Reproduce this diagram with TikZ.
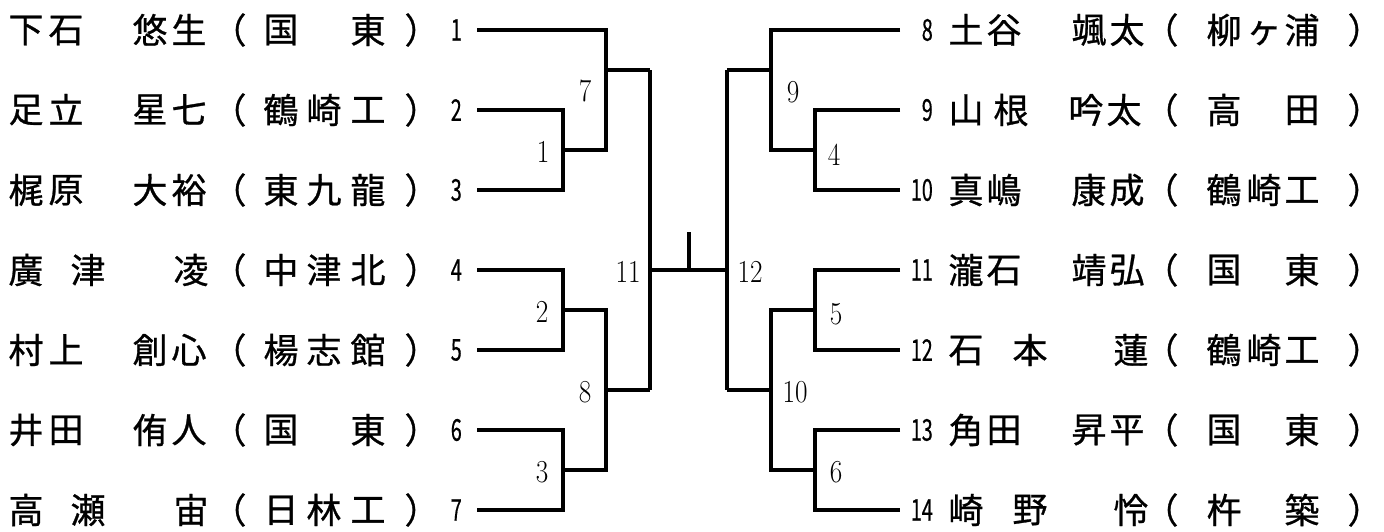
\documentclass[tikz,border=0pt]{standalone}
\usepackage{fontspec}
\usepackage{graphicx}
\newfontfamily\jpfont[FakeBold=0.8]{Noto Sans CJK JP}
\newfontfamily\numfont[FakeBold=0.6]{Noto Sans CJK JP}
\tikzset{
  x=1pt, y=-1pt,
  wire/.style={line width=4pt, line join=miter, line cap=butt},
  jp/.style={font=\jpfont\fontsize{35}{35}\selectfont, inner sep=0pt, anchor=center},
  seedl/.style={font=\numfont\fontsize{30}{30}\selectfont, inner sep=0pt, anchor=east},
  lbl/.style={font=\fontsize{32}{32}\selectfont, inner sep=0pt, anchor=center},
}
\newcommand\prow[4]{%
  \foreach \dx/\ch [count=\k] in {#4} {
    \node[jp] (#1-\k) at (#2+\dx,#3) {\vphantom{国}\ch};
  }%
}
\newcommand\snum[1]{\scalebox{0.66}[1]{#1}}
\newcommand\lnum[1]{\scalebox{0.85}[1]{#1}}
\begin{document}
\begin{tikzpicture}
\useasboundingbox (0,0) rectangle (1384,531);
% seed line ends
\coordinate (L1) at (477,30);
\coordinate (L2) at (477,110);
\coordinate (L3) at (477,190);
\coordinate (L4) at (477,270);
\coordinate (L5) at (477,350);
\coordinate (L6) at (477,430);
\coordinate (L7) at (477,510);
\coordinate (R8) at (900,30);
\coordinate (R9) at (900,110);
\coordinate (R10) at (900,190);
\coordinate (R11) at (900,270);
\coordinate (R12) at (900,350);
\coordinate (R13) at (900,430);
\coordinate (R14) at (900,510);
% match junctions
\coordinate (m1) at (563,150);
\coordinate (m2) at (563,310);
\coordinate (m3) at (563,470);
\coordinate (m7) at (606,70);
\coordinate (m8) at (606,390);
\coordinate (m11) at (650,270);
\coordinate (m12) at (727,270);
\coordinate (m9) at (771,70);
\coordinate (m10) at (771,390);
\coordinate (m4) at (815,150);
\coordinate (m5) at (815,310);
\coordinate (m6) at (815,470);
\coordinate (top) at (689,232);
% left bracket
\draw[wire] (L2) -| (m1) |- (L3);
\draw[wire] (L1) -| (m1 -| m7) -- (m1);
\draw[wire] (m7) -- (m7 -| m11);
\draw[wire] (L4) -| (m2) |- (L5);
\draw[wire] (L6) -| (m3) |- (L7);
\draw[wire] (m2) -| (m3 -| m8) -- (m3);
\draw[wire] (m8) -- (m8 -| m11);
\draw[wire] (m7 -| m11) -- (m8 -| m11);
% final
\draw[wire] (m11) -- (m12);
\draw[wire] (top) -- (top |- m11);
% right bracket
\draw[wire] (m9 -| m12) -- (m10 -| m12);
\draw[wire] (m9 -| m12) -- (m9);
\draw[wire] (m10 -| m12) -- (m10);
\draw[wire] (R8) -| (m4 -| m9) -- (m4);
\draw[wire] (R9) -| (m4) |- (R10);
\draw[wire] (m5) -| (m6 -| m10) -- (m6);
\draw[wire] (R11) -| (m5) |- (R12);
\draw[wire] (R13) -| (m6) |- (R14);
% match labels
\node[lbl] (t1) at (543,152) {\lnum{1}};
\node[lbl] (t2) at (542,312) {\lnum{2}};
\node[lbl] (t3) at (542,472) {\lnum{3}};
\node[lbl] (t7) at (585,91) {\lnum{7}};
\node[lbl] (t8) at (585,392) {\lnum{8}};
\node[lbl] (t11) at (628,272) {\lnum{11}};
\node[lbl] (t12) at (750,272) {\lnum{12}};
\node[lbl] (t9) at (793,92) {\lnum{9}};
\node[lbl] (t10) at (795,392) {\lnum{10}};
\node[lbl] (t4) at (834,155) {\lnum{4}};
\node[lbl] (t5) at (836,314) {\lnum{5}};
\node[lbl] (t6) at (836,472) {\lnum{6}};
% seed numbers
\node[seedl] (n1) at (462,30) {\snum{1}};
\node[seedl] (n2) at (462,110) {\snum{2}};
\node[seedl] (n3) at (462,190) {\snum{3}};
\node[seedl] (n4) at (462,270) {\snum{4}};
\node[seedl] (n5) at (462,350) {\snum{5}};
\node[seedl] (n6) at (462,430) {\snum{6}};
\node[seedl] (n7) at (462,510) {\snum{7}};
\node[seedl] (n8) at (933,30) {\snum{8}};
\node[seedl] (n9) at (933,110) {\snum{9}};
\node[seedl] (n10) at (933,190) {\snum{10}};
\node[seedl] (n11) at (933,270) {\snum{11}};
\node[seedl] (n12) at (933,350) {\snum{12}};
\node[seedl] (n13) at (933,430) {\snum{13}};
\node[seedl] (n14) at (933,510) {\snum{14}};
% left names
\prow{P1}{26}{30}{0/下,40/石,124/悠,163/生,203/（,255/国,342/東,396/）}
\prow{P2}{26}{110}{0/足,40/立,124/星,163/七,203/（,255/鶴,298/崎,342/工,396/）}
\prow{P3}{26}{190}{0/梶,40/原,124/大,163/裕,203/（,255/東,298/九,342/龍,396/）}
\prow{P4}{26}{270}{0/廣,62/津,165/凌,203/（,255/中,298/津,342/北,396/）}
\prow{P5}{26}{350}{0/村,40/上,124/創,163/心,203/（,255/楊,298/志,342/館,396/）}
\prow{P6}{26}{430}{0/井,40/田,124/侑,163/人,203/（,255/国,342/東,396/）}
\prow{P7}{26}{510}{0/高,62/瀬,165/宙,203/（,255/日,298/林,342/工,396/）}
% right names
\prow{P8}{966}{30}{0/土,38/谷,123/颯,161/太,195/（,258/柳,298/ヶ,336/浦,399/）}
\prow{P9}{966}{110}{0/山,45/根,120/吟,158/太,195/（,258/高,336/田,399/）}
\prow{P10}{966}{190}{0/真,38/嶋,123/康,161/成,195/（,258/鶴,298/崎,336/工,399/）}
\prow{P11}{966}{270}{0/瀧,38/石,123/靖,161/弘,195/（,258/国,336/東,399/）}
\prow{P12}{966}{350}{0/石,64/本,165/蓮,195/（,258/鶴,298/崎,336/工,399/）}
\prow{P13}{966}{430}{0/角,38/田,123/昇,161/平,195/（,258/国,336/東,399/）}
\prow{P14}{966}{510}{0/崎,64/野,165/怜,195/（,258/杵,336/築,399/）}
\end{tikzpicture}
\end{document}
